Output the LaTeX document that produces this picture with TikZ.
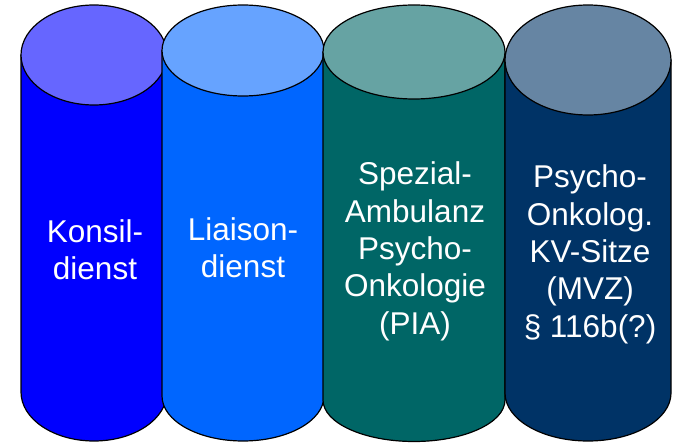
\documentclass[tikz,border=0pt]{standalone}
\usepackage{fontspec}
\setmainfont{Liberation Sans}
\definecolor{cA}{HTML}{0000FF}\definecolor{cAt}{HTML}{6666FF}
\definecolor{cB}{HTML}{0066FF}\definecolor{cBt}{HTML}{66A3FF}
\definecolor{cC}{HTML}{006666}\definecolor{cCt}{HTML}{66A3A3}
\definecolor{cD}{HTML}{003366}\definecolor{cDt}{HTML}{6685A3}
\tikzset{
  cylline/.style={draw=black, line width=1.2pt, line join=round},
  lbl/.style={text=white, align=center, inner sep=0pt, font=\fontsize{31.5}{37.3}\selectfont},
}
% #1 body colour, #2 top colour, #3 cx, #4 rx, #5 top cy, #6 top ry, #7 bottom cy, #8 bottom ry
\newcommand\drawcyl[8]{%
  \path[cylline, fill=#1] (#3-#4,#5) -- (#3-#4,#7)
     arc[start angle=180, end angle=360, x radius=#4, y radius=#8]
     -- (#3+#4,#5) -- cycle;
  \path[cylline, fill=#2] (#3,#5) ellipse[x radius=#4, y radius=#6];
}
\begin{document}
\begin{tikzpicture}[x=1pt,y=1pt]
\useasboundingbox (0,0) rectangle (677,442);
\drawcyl{cA}{cAt}{94}{73}{387}{50}{50}{49}
\drawcyl{cB}{cBt}{243}{81}{391.5}{45.5}{46}{45}
\drawcyl{cC}{cCt}{414}{91}{390}{47}{42}{41.5}
\drawcyl{cD}{cDt}{588}{83}{382}{55}{49}{48}
\node[lbl, anchor=base] (t1) at (95,{442-280}) {Konsil-\\dienst};
\node[lbl, anchor=base] (t2) at (243,{442-278}) {Liaison-\\dienst};
\node[lbl, anchor=base] (t3) at (415,{442-334}) {Spezial-\\Ambulanz\\Psycho-\\Onkologie\\(PIA)};
\node[lbl, anchor=base] (t4) at (590,{442-337}) {Psycho-\\Onkolog.\\KV-Sitze\\(MVZ)\\§ 116b(?)};
\end{tikzpicture}
\end{document}
